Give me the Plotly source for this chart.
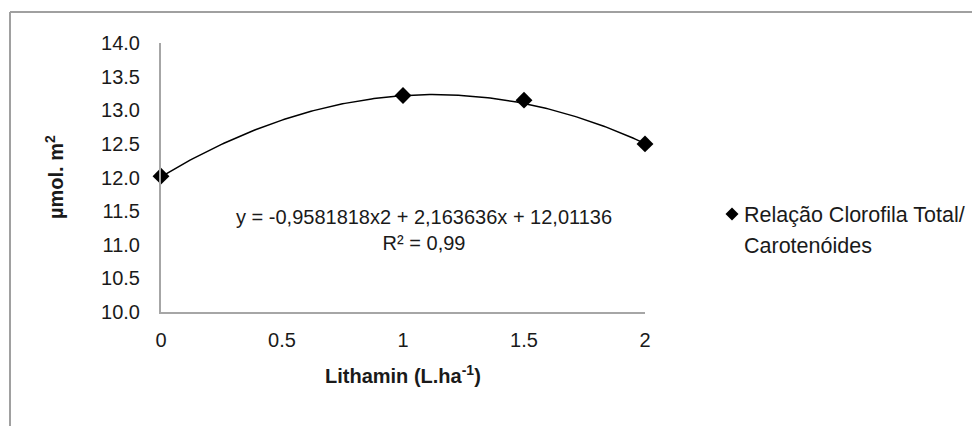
import numpy as np
import plotly.graph_objects as go

# Data
doses = [0, 1, 1.5, 2]
ratio = [12.02, 13.22, 13.15, 12.50]
# Trendline coefficients as printed on the chart (a*x^2 + b*x + c)
trend_coef = [-0.9581818, 2.163636, 12.01136]
x_ticks = [0, 0.5, 1, 1.5, 2]
x_tick_labels = ["0", "0.5", "1", "1.5", "2"]
y_ticks = [10.0, 10.5, 11.0, 11.5, 12.0, 12.5, 13.0, 13.5, 14.0]
y_tick_labels = [f"{v:.1f}" for v in y_ticks]
series_name = ["Relação Clorofila Total/", "Carotenóides"]

FONT = "Liberation Sans, Arial, sans-serif"
TXT = "#1a1a1a"
AX = "#a6a6a6"

OFF = 8                      # default page body margin
W, H = 980 - 2 * OFF, 434 - 2 * OFF
PL, PR, PT, PB = 161, 645, 43, 312   # plot area in screen pixels
L, T = PL - OFF, PT - OFF
R, B = W - (PR - OFF), H - (PB - OFF)
pw, ph = PR - PL, PB - PT

xt = np.linspace(0, 2, 201)
yt = np.polyval(trend_coef, xt)

fig = go.Figure()
fig.add_trace(go.Scatter(x=xt, y=yt, mode="lines",
                         line=dict(color="#000000", width=1.5),
                         showlegend=False, hoverinfo="skip", cliponaxis=False))
fig.add_trace(go.Scatter(x=doses, y=ratio, mode="markers",
                         marker=dict(symbol="diamond", size=13, color="#000000"),
                         name=" ".join(series_name), showlegend=False,
                         cliponaxis=False))

def px_x(p):
    return (p - PL) / pw

def px_y(p):
    return (PB - p) / ph

# legend key (diamond) drawn as a paper-space path
kx, ky, kr = 732, 214, 6.5
diamond = (f"M {px_x(kx - kr)} {px_y(ky)} L {px_x(kx)} {px_y(ky - kr)} "
           f"L {px_x(kx + kr)} {px_y(ky)} L {px_x(kx)} {px_y(ky + kr)} Z")

fig.update_layout(
    width=W, height=H,
    margin=dict(l=L, r=R, t=T, b=B),
    paper_bgcolor="white", plot_bgcolor="white",
    font=dict(family=FONT, size=20, color=TXT),
    xaxis=dict(range=[0, 2], tickvals=x_ticks, ticktext=x_tick_labels,
               showgrid=False, zeroline=False, showline=True, linecolor=AX,
               linewidth=2, ticks="", ticklabelstandoff=9,
               tickfont=dict(size=20, color=TXT)),
    yaxis=dict(range=[10, 14], tickvals=y_ticks, ticktext=y_tick_labels,
               showgrid=False, zeroline=False, showline=True, linecolor=AX,
               linewidth=2, ticks="", ticklabelstandoff=15,
               tickfont=dict(size=20, color=TXT)),
    showlegend=False,
    annotations=[
        dict(text="y = -0,9581818x2 + 2,163636x + 12,01136<br>R² = 0,99",
             xref="paper", yref="paper", x=px_x(424), y=px_y(230),
             xanchor="center", yanchor="middle", showarrow=False,
             align="center", font=dict(size=20, color=TXT)),
        dict(text="<b>Lithamin (L.ha<sup>-1</sup>)</b>",
             xref="paper", yref="paper", x=px_x(403), y=px_y(374),
             xanchor="center", yanchor="middle", showarrow=False,
             font=dict(size=20, color=TXT)),
        dict(text="<b>µmol. m<sup>2</sup></b>",
             xref="paper", yref="paper", x=px_x(54), y=px_y(177),
             xanchor="center", yanchor="middle", showarrow=False,
             textangle=-90, font=dict(size=20, color=TXT)),
        dict(text=series_name[0], xref="paper", yref="paper",
             x=px_x(742), y=px_y(215), xanchor="left", yanchor="middle",
             showarrow=False, font=dict(size=21.5, color=TXT)),
        dict(text=series_name[1], xref="paper", yref="paper",
             x=px_x(742), y=px_y(246), xanchor="left", yanchor="middle",
             showarrow=False, font=dict(size=21.5, color=TXT)),
    ],
    shapes=[
        dict(type="path", xref="paper", yref="paper", path=diamond,
             fillcolor="#000000", line=dict(width=0)),
        dict(type="line", xref="paper", yref="paper",
             x0=px_x(10), y0=px_y(12), x1=px_x(10), y1=px_y(440),
             line=dict(color="#a0a0a0", width=2)),
        dict(type="line", xref="paper", yref="paper",
             x0=px_x(10), y0=px_y(12), x1=px_x(985), y1=px_y(12),
             line=dict(color="#a0a0a0", width=2)),
    ],
)

fig.write_html("out.html")
